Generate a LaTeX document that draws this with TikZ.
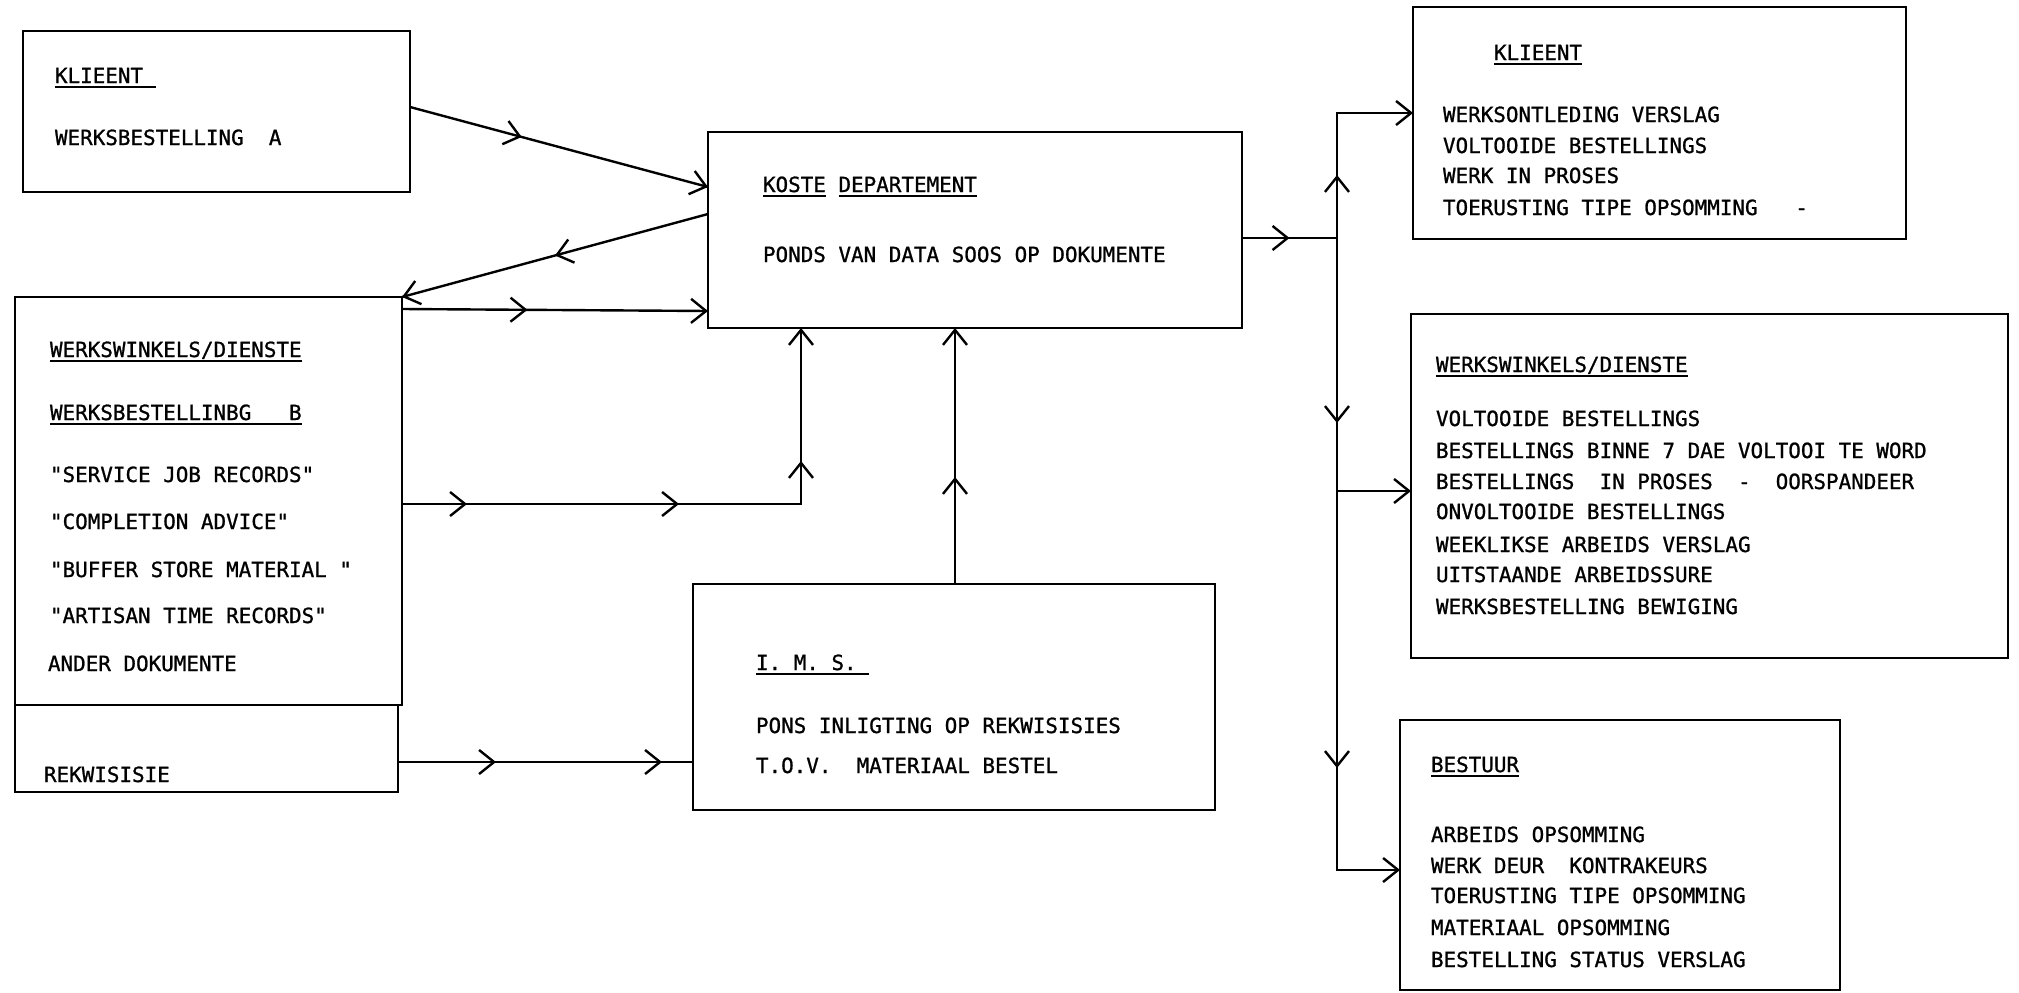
\documentclass[tikz,border=0pt]{standalone}
\usepackage{fontspec}
\newfontfamily\twfam{DejaVu Sans Mono}[FakeBold=1]
\usetikzlibrary{arrows.meta,decorations.markings}
\newcommand{\ulin}[1]{\setbox0=\hbox{#1}\rlap{\rule[-5pt]{\wd0}{2.2pt}}\box0}
\newcommand{\ah}{\arrow{Straight Barb[length=15pt,width=24pt,line width=2.4pt]}}
\begin{document}
\frenchspacing
\begin{tikzpicture}[x=1pt,y=-1pt,
  box/.style={draw, line width=2.4pt, inner sep=0pt, outer sep=0pt, anchor=north west},
  txt/.style={anchor=base west, inner sep=0pt, outer sep=0pt, font=\twfam\fontsize{20.9}{25}\selectfont},
  conn/.style={line width=2.4pt, postaction=decorate}]
\useasboundingbox (0,0) rectangle (2019,993);
\fill[white] (0,0) rectangle (2019,993);

% boxes
\node[box, minimum width=387pt, minimum height=161pt] (klL) at (23,31) {};
\node[box, minimum width=387pt, minimum height=408pt] (wwL) at (15,297) {};
\node[box, minimum width=383pt, minimum height=87pt] (rek) at (15,705) {};
\node[box, minimum width=534pt, minimum height=196pt] (koste) at (708,132) {};
\node[box, minimum width=522pt, minimum height=226pt] (ims) at (693,584) {};
\node[box, minimum width=493pt, minimum height=232pt] (klR) at (1413,7) {};
\node[box, minimum width=597pt, minimum height=344pt] (wwR) at (1411,314) {};
\node[box, minimum width=440pt, minimum height=270pt] (best) at (1400,720) {};

% texts left
\node[txt] (a1) at (55,83) {\ulin{KLIEENT\ }};
\node[txt] (a2) at (55,145) {WERKSBESTELLING\ \ A};
\node[txt] (b1) at (50,357) {\ulin{WERKSWINKELS/DIENSTE}};
\node[txt] (b2) at (50,420) {\ulin{WERKSBESTELLINBG\ \ \ B}};
\node[txt] (b3) at (50,482) {"SERVICE JOB RECORDS"};
\node[txt] (b4) at (50,529) {"COMPLETION ADVICE"};
\node[txt] (b5) at (50,577) {"BUFFER STORE MATERIAL\ "};
\node[txt] (b6) at (50,623) {"ARTISAN TIME RECORDS"};
\node[txt] (b7) at (48,671) {ANDER DOKUMENTE};
\node[txt] (r1) at (44,782) {REKWISISIE};
% koste
\node[txt] (k1) at (763,192) {\ulin{KOSTE}\ \ulin{DEPARTEMENT}};
\node[txt] (k2) at (763,262) {PONDS VAN DATA SOOS OP DOKUMENTE};
% ims
\node[txt] (i1) at (756,670) {\ulin{I.\ M.\ S.\ }};
\node[txt] (i2) at (756,733) {PONS INLIGTING OP REKWISISIES};
\node[txt] (i3) at (756,773) {T.O.V.\ \ MATERIAAL BESTEL};
% klieent right
\node[txt] (c1) at (1494,60) {\ulin{KLIEENT}};
\node[txt] (c2) at (1443,122) {WERKSONTLEDING VERSLAG};
\node[txt] (c3) at (1443,153) {VOLTOOIDE BESTELLINGS};
\node[txt] (c4t) at (1443,183) {WERK IN PROSES};
\node[txt] (c5) at (1443,215) {TOERUSTING TIPE OPSOMMING\ \ \ -};
% werkswinkels right
\node[txt] (d1) at (1436,372) {\ulin{WERKSWINKELS/DIENSTE}};
\node[txt] (d2) at (1436,426) {VOLTOOIDE BESTELLINGS};
\node[txt] (d3) at (1436,458) {BESTELLINGS BINNE 7 DAE VOLTOOI TE WORD};
\node[txt] (d4) at (1436,489) {BESTELLINGS\ \ IN PROSES\ \ -\ \ OORSPANDEER};
\node[txt] (d5) at (1436,519) {ONVOLTOOIDE BESTELLINGS};
\node[txt] (d6) at (1436,552) {WEEKLIKSE ARBEIDS VERSLAG};
\node[txt] (d7) at (1436,582) {UITSTAANDE ARBEIDSSURE};
\node[txt] (d8) at (1436,614) {WERKSBESTELLING BEWIGING};
% bestuur
\node[txt] (e1) at (1431,772) {\ulin{BESTUUR}};
\node[txt] (e2) at (1431,842) {ARBEIDS OPSOMMING};
\node[txt] (e3) at (1431,873) {WERK DEUR\ \ KONTRAKEURS};
\node[txt] (e4) at (1431,903) {TOERUSTING TIPE OPSOMMING};
\node[txt] (e5) at (1431,935) {MATERIAAL OPSOMMING};
\node[txt] (e6) at (1431,967) {BESTELLING STATUS VERSLAG};

% junction coordinates
\coordinate (p4) at (801,504);
\coordinate (j) at (1337,238);
\coordinate (j1) at (1337,113);
\coordinate (j2) at (1337,491);
\coordinate (j3) at (1337,870);

% connectors left
\draw[conn, decoration={markings, mark=at position 0.375 with {\ah}, mark=at position 1 with {\ah}}]
  (klL.east |- 0,107) -- (koste.west |- 0,187);
\draw[conn, decoration={markings, mark=at position 0.5 with {\ah}, mark=at position 1 with {\ah}}]
  (koste.west |- 0,214) -- (wwL.north east);
\draw[conn, decoration={markings, mark=at position 0.41 with {\ah}, mark=at position 1 with {\ah}}]
  (wwL.east |- 0,309) -- (koste.west |- 0,311);
\draw[conn, decoration={markings, mark=at position 65pt with {\ah}, mark=at position 277pt with {\ah}, mark=at position 442pt with {\ah}, mark=at position 1 with {\ah}}]
  (wwL.east |- p4) -- (p4) -- (koste.south -| p4);
\draw[conn, decoration={markings, mark=at position 98pt with {\ah}, mark=at position 264pt with {\ah}}]
  (rek.east |- 0,762) -- (ims.west |- 0,762);
\draw[conn, decoration={markings, mark=at position 107pt with {\ah}, mark=at position 1 with {\ah}}]
  (ims.north -| 955,0) -- (koste.south -| 955,0);

% connectors right
\draw[conn, decoration={markings, mark=at position 0.5 with {\ah}}]
  (koste.east |- j) -- (j);
\draw[conn, decoration={markings, mark=at position 63pt with {\ah}, mark=at position 1 with {\ah}}]
  (j) -- (j1) -- (klR.west |- j1);
\draw[conn, decoration={markings, mark=at position 185pt with {\ah}, mark=at position 1 with {\ah}}]
  (j) -- (j2) -- (wwR.west |- j2);
\draw[conn, decoration={markings, mark=at position 277pt with {\ah}, mark=at position 1 with {\ah}}]
  (j2) -- (j3) -- (best.west |- j3);
\end{tikzpicture}
\end{document}
